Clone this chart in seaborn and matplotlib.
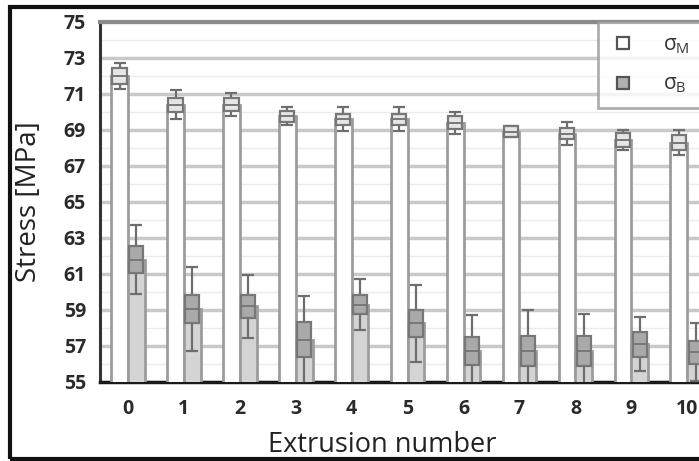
import numpy as np
import pandas as pd
import seaborn as sns
import matplotlib
matplotlib.use("Agg")
import matplotlib.pyplot as plt
from matplotlib.lines import Line2D
from matplotlib.patches import Rectangle

# ---- data ----
categories = ['0', '1', '2', '3', '4', '5', '6', '7', '8', '9', '10']
sigma_M = [72.0, 70.4, 70.4, 69.75, 69.6, 69.6, 69.4, 68.9, 68.8, 68.45, 68.3]
sigma_M_box = [0.45, 0.4, 0.35, 0.3, 0.3, 0.3, 0.35, 0.3, 0.3, 0.4, 0.4]
sigma_M_whisker = [0.7, 0.8, 0.65, 0.5, 0.65, 0.65, 0.6, 0.3, 0.65, 0.55, 0.7]
sigma_B = [61.8, 59.05, 59.2, 57.35, 59.3, 58.25, 56.7, 56.7, 56.7, 57.1, 56.65]
sigma_B_box = [0.74, 0.78, 0.64, 0.97, 0.55, 0.75, 0.78, 0.83, 0.83, 0.7, 0.65]
sigma_B_whisker = [1.9, 2.35, 1.75, 2.45, 1.4, 2.15, 2.0, 2.3, 2.1, 1.5, 1.6]
series_labels = [r'σ$_\mathregular{M}$', r'σ$_\mathregular{B}$']
y_ticks = [55, 57, 59, 61, 63, 65, 67, 69, 71, 73, 75]

df = pd.DataFrame({
    'Extrusion': categories * 2,
    'Stress': sigma_M + sigma_B,
    'Series': ['M'] * len(categories) + ['B'] * len(categories),
})

sns.set_style("white")
plt.rcParams['font.family'] = ['Open Sans', 'DejaVu Sans']
plt.rcParams['mathtext.fontset'] = 'custom'
plt.rcParams['mathtext.rm'] = 'Open Sans'

fig = plt.figure(figsize=(6.99, 4.61), dpi=100)
ax = fig.add_axes([100 / 699, 1 - 382 / 461, 599 / 699, 360 / 461])

fills = ['#ffffff', '#d4d4d4']
box_fills = ['#e6e6e6', '#a9a9a9']
edge = '#9c9c9c'

sns.barplot(data=df, x='Extrusion', y='Stress', hue='Series', order=categories,
            hue_order=['M', 'B'], palette=fills, width=0.6, errorbar=None,
            edgecolor=edge, linewidth=2.0, legend=False, ax=ax, zorder=3)

means = [sigma_M, sigma_B]
boxes = [sigma_M_box, sigma_B_box]
whis = [sigma_M_whisker, sigma_B_whisker]
patches = [p for p in ax.patches if isinstance(p, Rectangle)]
n = len(categories)
for s in range(2):
    for i in range(n):
        p = patches[s * n + i]
        xc = p.get_x() + p.get_width() / 2
        w = p.get_width()
        m, b, wh = means[s][i], boxes[s][i], whis[s][i]
        ax.errorbar(xc, m, yerr=wh, fmt='none', ecolor='#6e6e6e', elinewidth=1.6,
                    capsize=4, capthick=1.6, zorder=4)
        ax.bar(xc, 2 * b, bottom=m - b, width=w * 0.85, color=box_fills[s],
               edgecolor='#777777', linewidth=1.6, zorder=5)
        ax.plot([xc - w * 0.42, xc + w * 0.42], [m, m], color='#777777', lw=1.4, zorder=6)

ax.set_ylim(55, 75)
ax.set_xlim(-0.5, 10.21)
ax.set_yticks(y_ticks)
ax.set_yticks(np.arange(56, 75, 2), minor=True)
ax.set_xticks(np.arange(0.5, 10, 1), minor=True)
ax.grid(axis='y', which='major', color='#c9c9c9', linewidth=2.5, zorder=0)
ax.grid(axis='y', which='minor', color='#ececec', linewidth=1.0, zorder=0)
ax.set_axisbelow(True)

ax.tick_params(axis='y', which='major', length=3, width=2, color='#333333',
               labelsize=14, labelcolor='#2a2a2a', pad=10, direction='in')
ax.tick_params(axis='y', which='minor', length=0)
ax.tick_params(axis='x', which='major', length=0, labelsize=14, labelcolor='#2a2a2a', pad=12)
ax.tick_params(axis='x', which='minor', length=4, width=3, color='#222222', direction='out')
for lab in ax.get_xticklabels() + ax.get_yticklabels():
    lab.set_fontweight('bold')

for side in ['left', 'bottom', 'top']:
    ax.spines[side].set_visible(True)
ax.spines['left'].set_color('#333333')
ax.spines['left'].set_linewidth(2.2)
ax.spines['bottom'].set_color('#1a1a1a')
ax.spines['bottom'].set_linewidth(2.5)
ax.spines['top'].set_color('#8a8a8a')
ax.spines['top'].set_linewidth(3)
ax.spines['right'].set_visible(False)

ax.set_ylabel('Stress [MPa]', fontsize=20, color='#222222', labelpad=15)
ax.set_xlabel('Extrusion number', fontsize=19.5, color='#222222')
ax.xaxis.set_label_coords(0.472, -0.135)

handles = [Line2D([], [], marker='s', linestyle='none', markersize=9,
                  markerfacecolor=f, markeredgecolor='#555555', markeredgewidth=1.6)
           for f in ['#ffffff', '#b0b0b0']]
leg = ax.legend(handles, series_labels, loc='upper right', bbox_to_anchor=(1.005, 1.0),
                frameon=True, fancybox=False, fontsize=15, labelspacing=0.85,
                handlelength=1.2, handletextpad=1.3, borderpad=0.6, borderaxespad=0.0)
leg.get_frame().set_edgecolor('#9a9a9a')
leg.get_frame().set_linewidth(2)
for t in leg.get_texts():
    t.set_color('#333333')
leg.set_zorder(10)

# outer frame of the figure
fig.patches.append(Rectangle((10 / 699, 2 / 461), 700 / 699, 452 / 461,
                             transform=fig.transFigure, fill=False,
                             edgecolor='#111111', linewidth=3, zorder=20))

fig.savefig('out.png', dpi=100)
